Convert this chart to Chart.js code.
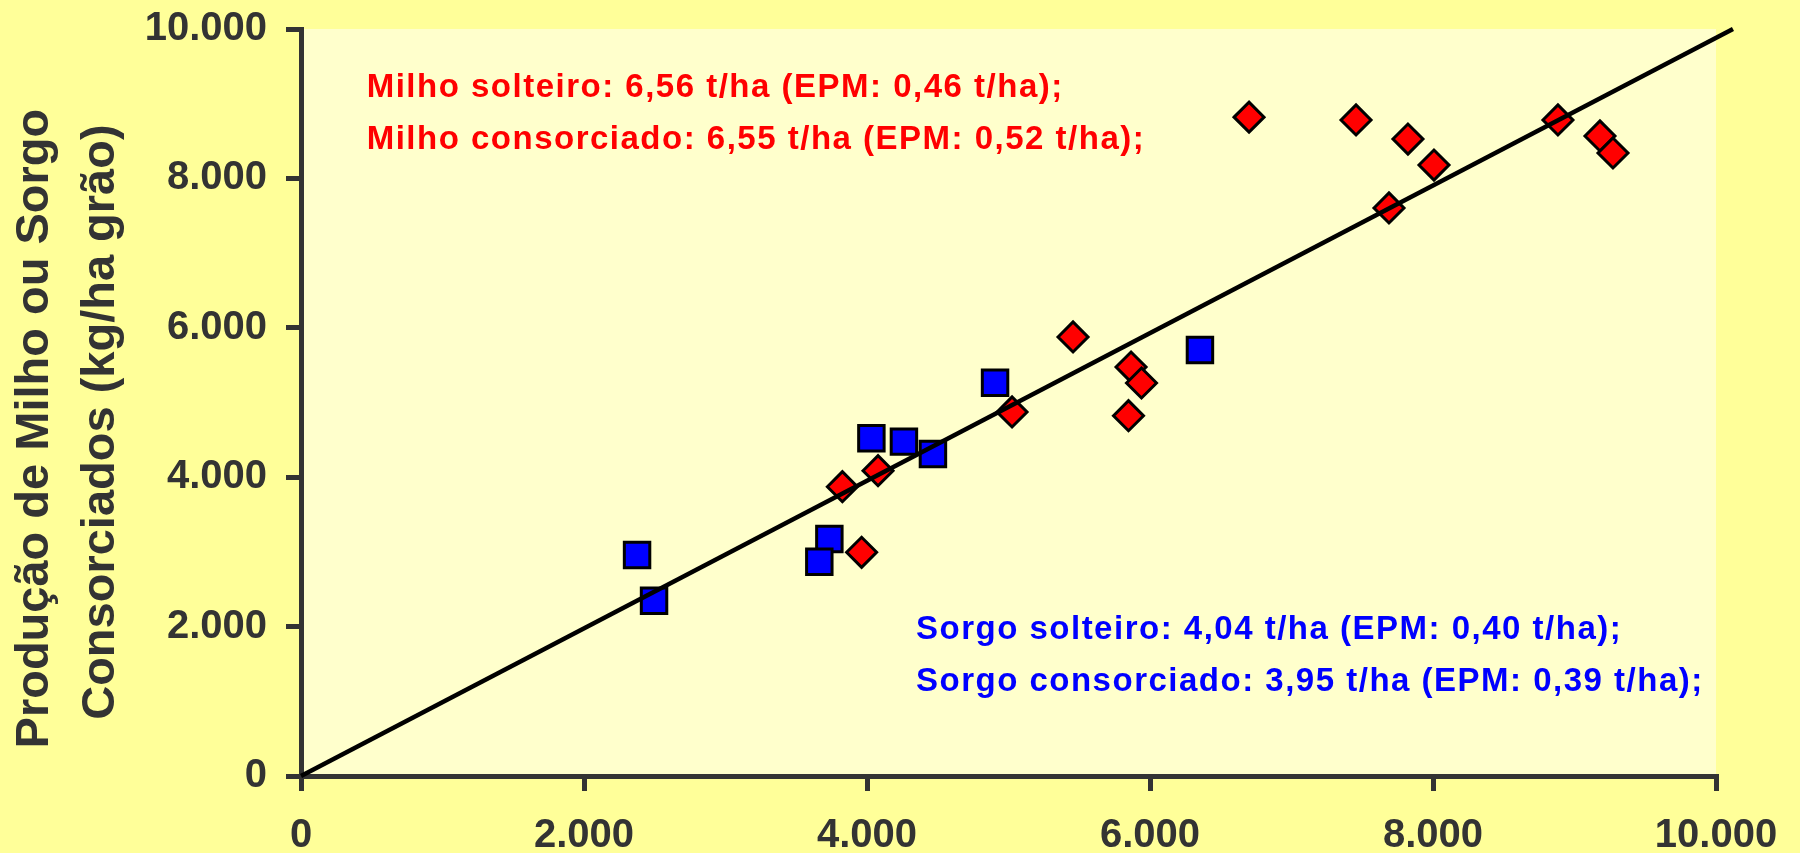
<!DOCTYPE html>
<html>
<head>
<meta charset="utf-8">
<script src="https://cdn.jsdelivr.net/npm/chart.js@4.4.1/dist/chart.umd.min.js"></script>
<style>
  html, body { margin: 0; padding: 0; background: #ffff99; }
  #wrap { width: 1800px; height: 853px; }
</style>
</head>
<body>
<div id="wrap"><canvas id="chart" width="1800" height="853"></canvas></div>
<script>
// ---- data (kg/ha): x = solteiro, y = consorciado ----
const milhoX = [6700, 7456, 7823, 8007, 7689, 8883, 9180, 9272, 5456, 5866, 5940, 5848, 5025, 3826, 4078, 3962];
const milhoY = [8820, 8782, 8527, 8179, 7604, 8782, 8568, 8340, 5877, 5475, 5261, 4823, 4873, 3873, 4087, 2995];
const sorgoX = [2375, 2495, 3734, 3663, 4031, 4261, 4466, 4905, 6353];
const sorgoY = [2958, 2347, 3173, 2869, 4521, 4476, 4310, 5265, 5703];

// reference line
const lineX = [0, 10120];
const lineY = [0, 10000];

const tickValues = [0, 2000, 4000, 6000, 8000, 10000];
const tickLabels = ['0', '2.000', '4.000', '6.000', '8.000', '10.000'];

// trailing spaces nudge the rotated title down a little, like the original
const yTitle = ['Produção de Milho ou Sorgo    ', 'Consorciados (kg/ha grão)   '];

const noteText = [
    'Milho solteiro: 6,56 t/ha (EPM: 0,46 t/ha);',
    'Milho consorciado: 6,55 t/ha (EPM: 0,52 t/ha);',
    'Sorgo solteiro: 4,04 t/ha (EPM: 0,40 t/ha);',
    'Sorgo consorciado: 3,95 t/ha (EPM: 0,39 t/ha);'
];
// anchors of the notes, in data units (left edge, baseline)
const noteAnchorX = [464, 464, 4346, 4346];
const noteAnchorY = [9094, 8390, 1830, 1142];
const noteColors = ['#ff0000', '#ff0000', '#0000ff', '#0000ff'];

const toPoints = (xs, ys) => xs.map((x, i) => ({ x: x, y: ys[i] }));

const FONT = '"Liberation Sans", Arial, Helvetica, sans-serif';
const AXIS = '#333333';

const plotBackground = {
    id: 'plotBackground',
    beforeDraw(chart) {
        const { ctx, chartArea: a } = chart;
        ctx.save();
        ctx.fillStyle = '#ffff99';
        ctx.fillRect(0, 0, chart.width, chart.height);
        ctx.fillStyle = '#ffffcc';
        ctx.fillRect(a.left, a.top, a.right - a.left, a.bottom - a.top);
        ctx.restore();
    }
};

const notes = {
    id: 'notes',
    afterDraw(chart) {
        const { ctx, scales } = chart;
        ctx.save();
        ctx.font = 'bold 33px ' + FONT;
        ctx.letterSpacing = '1.5px';
        ctx.textAlign = 'left';
        ctx.textBaseline = 'alphabetic';
        noteText.forEach((t, i) => {
            ctx.fillStyle = noteColors[i];
            ctx.fillText(t, scales.x.getPixelForValue(noteAnchorX[i]), scales.y.getPixelForValue(noteAnchorY[i]));
        });
        ctx.restore();
    }
};

function tickOptions(pad) {
    return {
        stepSize: 2000,
        padding: pad,
        maxRotation: 0,
        color: AXIS,
        font: { family: FONT, size: 40, weight: 'bold' },
        callback: (v) => {
            const i = tickValues.indexOf(v);
            return i >= 0 ? tickLabels[i] : '';
        }
    };
}

function axisOptions(extra) {
    return Object.assign({
        type: 'linear',
        min: 0,
        max: 10000,
        border: { display: true, color: AXIS, width: 5 },
        grid: {
            drawOnChartArea: false,
            drawTicks: true,
            color: AXIS,
            lineWidth: 5,
            tickLength: 15
        }
    }, extra);
}

const ctx = document.getElementById('chart').getContext('2d');
new Chart(ctx, {
    type: 'scatter',
    data: {
        datasets: [
            {
                label: 'linha',
                data: toPoints(lineX, lineY),
                showLine: true,
                borderColor: '#000000',
                borderWidth: 4.5,
                pointRadius: 0,
                clip: false
            },
            {
                label: 'Sorgo',
                data: toPoints(sorgoX, sorgoY),
                pointStyle: 'rect',
                pointRadius: 18,
                backgroundColor: '#0000ff',
                borderColor: '#000000',
                borderWidth: 3
            },
            {
                label: 'Milho',
                data: toPoints(milhoX, milhoY),
                pointStyle: 'rectRot',
                pointRadius: 15,
                backgroundColor: '#ff0000',
                borderColor: '#000000',
                borderWidth: 3
            }
        ]
    },
    options: {
        responsive: false,
        animation: false,
        events: [],
        layout: { padding: { top: 29, right: 84, left: 0, bottom: 0 } },
        plugins: {
            legend: { display: false },
            tooltip: { enabled: false }
        },
        scales: {
            x: axisOptions({
                position: 'bottom',
                ticks: tickOptions(21),
                afterFit: (s) => {
                    s.height = 77;
                    s.paddingLeft = 0;
                    s.paddingRight = 0;
                }
            }),
            y: axisOptions({
                position: 'left',
                ticks: tickOptions(19),
                title: {
                    display: true,
                    text: yTitle,
                    color: AXIS,
                    font: { family: FONT, size: 47, weight: 'bold', lineHeight: 1.4 },
                    padding: { top: 2, bottom: 0 }
                },
                afterFit: (s) => {
                    s.width = 301;
                    s.paddingTop = 0;
                    s.paddingBottom = 0;
                }
            })
        }
    },
    plugins: [plotBackground, notes]
});
</script>
</body>
</html>
